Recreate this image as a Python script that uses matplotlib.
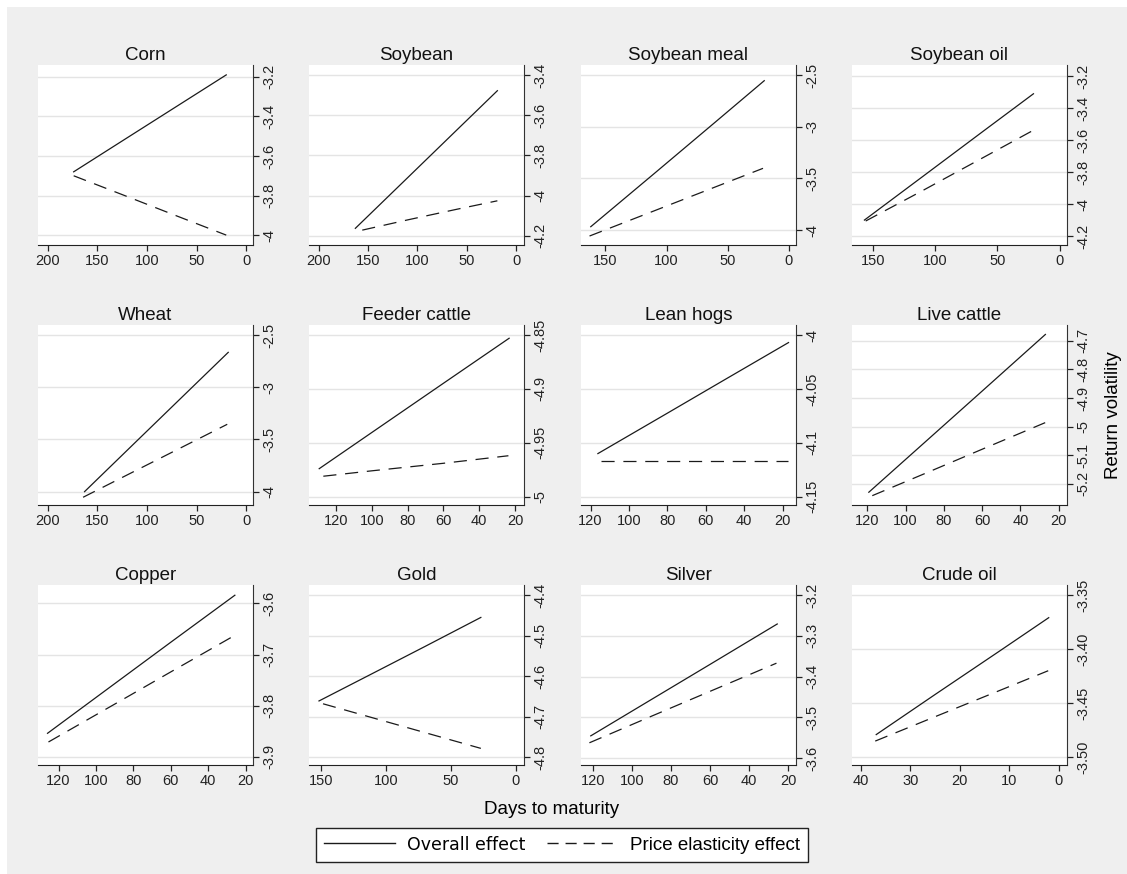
import matplotlib
matplotlib.use("Agg")
import matplotlib.pyplot as plt
from matplotlib.lines import Line2D
from matplotlib.patches import Rectangle

plt.rcParams["font.family"] = ["Liberation Sans", "DejaVu Sans"]

# Data (days to maturity, return volatility)
commodities = ["Corn", "Soybean", "Soybean meal", "Soybean oil",
               "Wheat", "Feeder cattle", "Lean hogs", "Live cattle",
               "Copper", "Gold", "Silver", "Crude oil"]

overall_days = [
    [174, 120, 70, 20],
    [163, 110, 60, 19],
    [162, 110, 60, 20],
    [157, 110, 60, 21],
    [163, 110, 60, 18],
    [129.3, 100, 60, 23.3],
    [116.2, 80, 50, 16.9],
    [119.2, 90, 60, 26.9],
    [125.9, 90, 60, 25.7],
    [151.3, 110, 70, 26.8],
    [121, 90, 60, 25.6],
    [36.9, 25, 12, 2.0],
]
overall_vol = [
    [-3.68, -3.508, -3.349, -3.19],
    [-4.163, -3.911, -3.673, -3.478],
    [-3.968, -3.453, -2.955, -2.555],
    [-4.10, -3.827, -3.536, -3.31],
    [-4.00, -3.512, -3.052, -2.666],
    [-4.974, -4.9405, -4.8948, -4.853],
    [-4.110, -4.0725, -4.0413, -4.007],
    [-5.229, -5.055, -4.876, -4.678],
    [-3.854, -3.757, -3.676, -3.584],
    [-4.661, -4.593, -4.527, -4.455],
    [-3.545, -3.456, -3.370, -3.271],
    [-3.479, -3.442, -3.402, -3.371],
]
price_days = [
    [174, 120, 70, 20],
    [156, 110, 60, 19],
    [163, 110, 60, 21],
    [156, 110, 60, 21.5],
    [164.5, 110, 60, 19],
    [127, 100, 60, 23.7],
    [114.8, 66, 17.2],
    [117.4, 90, 60, 27],
    [125.4, 90, 60, 26],
    [148.2, 110, 70, 26.8],
    [121.7, 90, 60, 26],
    [37.1, 25, 12, 2.1],
]
price_vol = [
    [-3.70, -3.805, -3.903, -4.00],
    [-4.172, -4.121, -4.068, -4.026],
    [-4.058, -3.814, -3.583, -3.403],
    [-4.106, -3.915, -3.703, -3.54],
    [-4.054, -3.792, -3.552, -3.355],
    [-4.981, -4.976, -4.969, -4.962],
    [-4.117, -4.117, -4.117],
    [-5.241, -5.164, -5.079, -4.986],
    [-3.871, -3.797, -3.734, -3.663],
    [-4.668, -4.7026, -4.7389, -4.778],
    [-3.562, -3.497, -3.436, -3.367],
    [-3.485, -3.4625, -3.4384, -3.420],
]

x_ticks = [
    [200, 150, 100, 50, 0], [200, 150, 100, 50, 0], [150, 100, 50, 0], [150, 100, 50, 0],
    [200, 150, 100, 50, 0], [120, 100, 80, 60, 40, 20], [120, 100, 80, 60, 40, 20],
    [120, 100, 80, 60, 40, 20],
    [120, 100, 80, 60, 40, 20], [150, 100, 50, 0], [120, 100, 80, 60, 40, 20],
    [40, 30, 20, 10, 0],
]
y_ticks = [
    [-4, -3.8, -3.6, -3.4, -3.2],
    [-4.2, -4, -3.8, -3.6, -3.4],
    [-4, -3.5, -3, -2.5],
    [-4.2, -4, -3.8, -3.6, -3.4, -3.2],
    [-4, -3.5, -3, -2.5],
    [-5, -4.95, -4.9, -4.85],
    [-4.15, -4.1, -4.05, -4],
    [-5.2, -5.1, -5, -4.9, -4.8, -4.7],
    [-3.9, -3.8, -3.7, -3.6],
    [-4.8, -4.7, -4.6, -4.5, -4.4],
    [-3.6, -3.5, -3.4, -3.3, -3.2],
    [-3.50, -3.45, -3.40, -3.35],
]
y_fmt = ["{:g}"] * 11 + ["{:.2f}"]

# axis ranges (reversed x: days count down to maturity)
x_lims = [(210, -7), (210, -8), (170, -6), (167, -6),
          (210, -7), (135, 15), (125, 13), (128, 15.6),
          (131, 16), (159, -6.4), (126, 16), (41.8, -1.7)]
y_lims = [(-4.05, -3.14), (-4.246, -3.35), (-4.145, -2.403), (-4.256, -3.13),
          (-4.128, -2.404), (-5.0077, -4.8407), (-4.1577, -3.9907), (-5.2736, -4.645),
          (-3.916, -3.564), (-4.819, -4.375), (-3.6164, -3.1755), (-3.5071, -3.3408)]

W, H = 1127, 874
fig = plt.figure(figsize=(W / 100, H / 100), dpi=100, facecolor="white")
bg = Rectangle((7 / W, 0), 1 - 7 / W, 1 - 7 / H, transform=fig.transFigure,
               facecolor="#efefef", edgecolor="none")
bg.set_zorder(-10)
fig.patches.append(bg)

lefts = [38, 309, 581, 852]
tops = [65, 325, 585]
pw, ph = 215, 180
line_col = "#1a1a1a"
dash = (10.5, 7)

for i, name in enumerate(commodities):
    r, c = divmod(i, 4)
    ax = fig.add_axes([lefts[c] / W, 1 - (tops[r] + ph) / H, pw / W, ph / H])
    ax.set_facecolor("white")
    ax.plot(overall_days[i], overall_vol[i], color=line_col, lw=0.9)
    ax.plot(price_days[i], price_vol[i], color=line_col, lw=0.9, ls=(0, dash))
    ax.set_xlim(*x_lims[i])
    ax.set_ylim(*y_lims[i])
    ax.set_xticks(x_ticks[i])
    ax.set_yticks(y_ticks[i])
    ax.set_yticklabels([y_fmt[i].format(v) for v in y_ticks[i]])
    ax.yaxis.tick_right()
    ax.grid(axis="y", color="#e4e4e4", lw=1.0)
    ax.set_axisbelow(True)
    for s in ["top", "left"]:
        ax.spines[s].set_visible(False)
    ax.spines["right"].set_color("#333333")
    ax.spines["bottom"].set_color("#222222")
    ax.tick_params(axis="x", length=4, width=0.9, pad=2.5, labelsize=10.5, colors="#222222")
    ax.tick_params(axis="y", length=4, width=0.9, pad=3, labelsize=10.5, colors="#222222",
                   labelrotation=90)
    for lab in ax.get_yticklabels():
        lab.set_verticalalignment("center")
    ax.set_title(name, fontsize=13.5, pad=3.5, color="#111111")

fig.text(552 / W, 1 - 810 / H, "Days to maturity", ha="center", va="center", fontsize=13.5)
fig.text(1114 / W, 1 - 415 / H, "Return volatility", ha="center", va="center",
         rotation=90, fontsize=13.5)

handles = [Line2D([], [], color=line_col, lw=1.0),
           Line2D([], [], color=line_col, lw=1.0, ls=(0, (8, 5)))]
leg = fig.legend(handles, ["Overall effect", "Price elasticity effect"], ncol=2,
                 loc="center", bbox_to_anchor=(562 / W, 1 - 845 / H), fontsize=13.5,
                 frameon=True, fancybox=False, edgecolor="#222222", facecolor="white",
                 framealpha=1, handlelength=3.8, handletextpad=0.6, columnspacing=1.2,
                 borderpad=0.45)
leg.get_frame().set_linewidth(1.0)
leg.get_texts()[0].set_fontfamily("DejaVu Sans")
leg.get_texts()[0].set_fontsize(12.5)

fig.savefig("out.png", dpi=100, facecolor=fig.get_facecolor())
